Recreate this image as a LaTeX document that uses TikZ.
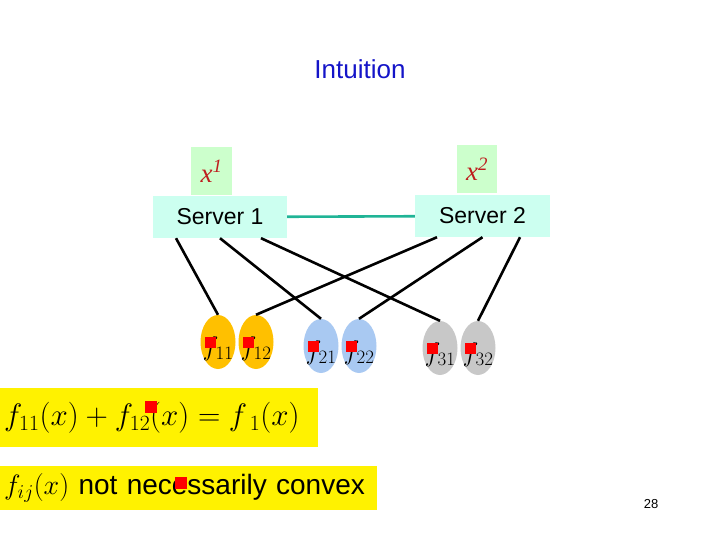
\RequirePackage{fix-cm}
\documentclass[tikz,border=0pt]{standalone}
\usepackage[no-math]{fontspec}
\newfontfamily\slidesans{Liberation Sans}
\newfontfamily\slideserif{Liberation Serif}
\usetikzlibrary{positioning,shapes.geometric}
\definecolor{srvfill}{RGB}{204,255,240}
\definecolor{varfill}{RGB}{204,255,204}
\definecolor{xred}{RGB}{190,30,30}
\definecolor{titleblue}{RGB}{20,20,200}
\definecolor{linkteal}{RGB}{32,180,150}
\definecolor{fnorange}{RGB}{255,192,0}
\definecolor{fnblue}{RGB}{169,201,242}
\definecolor{fngrey}{RGB}{200,200,200}

\begin{document}
\begin{tikzpicture}[x=1pt, y=-1pt,
  server/.style={fill=srvfill, minimum width=134pt, minimum height=42pt, inner sep=0pt, font=\slidesans\fontsize{23}{26}\selectfont},
  var/.style={fill=varfill, minimum width=41pt, minimum height=48pt, inner sep=0pt, text=xred, font=\slideserif\itshape\fontsize{27}{30}\selectfont},
  fn/.style={ellipse, minimum width=35pt, minimum height=54pt, inner sep=0pt},
  wire/.style={line width=2.6pt, black},
  redmark/.style={fill=red, minimum size=11pt, inner sep=0pt},
  note/.style={fill=yellow, anchor=north west, inner xsep=4pt, inner ysep=0pt, align=left, font=\slidesans\fontsize{28}{30}\selectfont}]
\useasboundingbox (0,0) rectangle (720,540);

\node[text=titleblue, font=\slidesans\fontsize{26}{29}\selectfont] (title) at (360,69) {Intuition};

% servers and their variables
\node[server] (s1) at (220,217) {Server 1};
\node[server, minimum width=135pt] (s2) at (482.5,216) {Server 2};
\node[var] (x1) at (211.5,171) {x\textsuperscript{1}};
\node[var, minimum width=40pt] (x2) at (477,169) {x\textsuperscript{2}};
\draw[linkteal, line width=2.6pt] (s1) -- (s2);

% local functions
\foreach \n/\x/\y/\c in {11/218/342/fnorange, 12/256/342/fnorange, 21/321/346/fnblue, 22/359/346/fnblue, 31/440/348/fngrey, 32/478/348/fngrey} {
  \node[fn, fill=\c] (f\n) at (\x,\y) {};
  \node[inner sep=0pt, font=\fontsize{27}{30}\selectfont] (l\n) at ([yshift=-7pt]f\n.center) {$f_{\n}$};
  \node[redmark] (m\n) at ([xshift=-8pt]f\n.center) {};
}

\draw[wire] ([xshift=-44pt]s1.south) -- (f11.north);
\draw[wire] (s1.south) -- (f21.north);
\draw[wire] ([xshift=41pt]s1.south) -- (f31.north);
\draw[wire] ([xshift=-45.5pt]s2.south) -- (f12.north);
\draw[wire] (s2.south) -- (f22.north);
\draw[wire] ([xshift=37.5pt]s2.south) -- (f32.north);

% remarks
\node[note, text width=310pt, minimum height=59pt, font=\slidesans\fontsize{31}{33}\selectfont] (sum) at (0,388) {$f_{11}(x)+f_{12}(x)=f_{\;1}(x)$};
\node[note, text width=369pt, minimum height=44pt] (convex) at (0,466) {$f_{ij}(x)$ not necessarily convex};
\node[redmark, minimum size=12pt] (msum) at (151,407) {};
\node[redmark, minimum size=12pt] (mconvex) at (181,483) {};

\node[font=\slidesans\fontsize{13}{15}\selectfont] (page) at (651,504) {28};
\end{tikzpicture}
\end{document}
